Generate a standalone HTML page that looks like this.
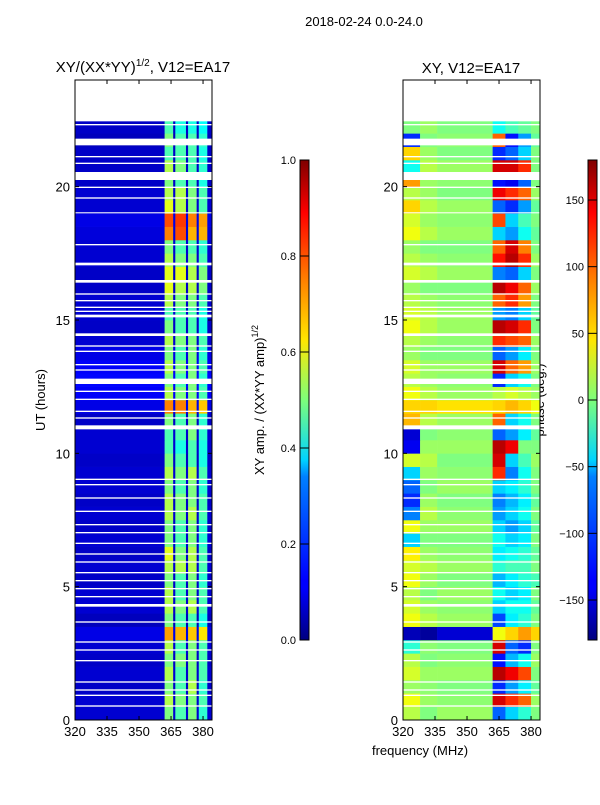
<!DOCTYPE html>
<html><head><meta charset="utf-8">
<style>
body{margin:0;background:#fff;width:600px;height:800px;overflow:hidden;font-family:"Liberation Sans","DejaVu Sans",sans-serif;}
svg text{font-family:"Liberation Sans","DejaVu Sans",sans-serif;fill:#000;}
</style></head>
<body>
<svg id="fig" width="600" height="800" viewBox="0 0 600 800" xmlns="http://www.w3.org/2000/svg">
<defs>
<linearGradient id="jet" x1="0" y1="1" x2="0" y2="0">
<stop offset="0" stop-color="#00007f"/><stop offset="0.11" stop-color="#0000ff"/>
<stop offset="0.125" stop-color="#0000ff"/><stop offset="0.34" stop-color="#0080ff"/>
<stop offset="0.375" stop-color="#00d4ff"/><stop offset="0.5" stop-color="#7dff7a"/>
<stop offset="0.625" stop-color="#ffe600"/><stop offset="0.75" stop-color="#ff8000"/>
<stop offset="0.89" stop-color="#ff0000"/><stop offset="1" stop-color="#7f0000"/>
</linearGradient>
</defs>
<text x="364" y="26" font-size="13" text-anchor="middle">2018-02-24 0.0-24.0</text>
<text x="143" y="72" font-size="15" text-anchor="middle">XY/(XX*YY)<tspan font-size="10" dy="-6">1/2</tspan><tspan dy="6">, V12=EA17</tspan></text>
<text x="471" y="73" font-size="15" text-anchor="middle">XY, V12=EA17</text>
<text transform="translate(45,400) rotate(-90)" font-size="13" text-anchor="middle">UT (hours)</text>
<text x="420" y="755" font-size="13" text-anchor="middle">frequency (MHz)</text>
<text transform="translate(264,400) rotate(-90)" font-size="13" text-anchor="middle">XY amp. / (XX*YY amp)<tspan font-size="9" dy="-6">1/2</tspan></text>
<text transform="translate(544,400) rotate(-90)" font-size="13" text-anchor="middle">phase (deg.)</text>
<g id="left"></g>
<g id="right"></g>
<g id="axes"></g>
</svg>
<script>
// ---- data (time bins of 0.5 h starting at 0) ----
const timeStart = [0,0.5,1,1.5,2,2.5,3,3.5,4,4.5,5,5.5,6,6.5,7,7.5,8,8.5,9,9.5,10,10.5,11,11.5,12,12.5,13,13.5,14,14.5,15,15.5,16,16.5,17,17.5,18,18.5,19,19.5,20,20.5,21,21.5,22];
const dataEnd = 22.45;
const ampBg  = [0.08,0.08,0.07,0.08,0.07,0.08,0.1,0.06,0.08,0.08,0.07,0.08,0.07,0.08,0.07,0.08,0.07,0.08,0.08,0.07,0.08,0.08,0.07,0.1,0.12,0.13,0.12,0.1,0.08,0.07,0.08,0.08,0.07,0.07,0.08,0.08,0.09,0.1,0.08,0.08,0.07,0.07,0.07,0.06,0.07];
const amp1 = [0.5,0.55,0.5,0.55,0.5,0.55,0.72,0.5,0.55,0.55,0.5,0.55,0.6,0.5,0.5,0.55,0.55,0.5,0.55,0.5,0.45,0.45,0.5,0.75,0.55,0.5,0.55,0.5,0.55,0.5,0.45,0.55,0.6,0.6,0.55,0.5,0.75,0.8,0.6,0.55,0.5,0.55,0.45,0.5,0.45];
const amp2 = [0.45,0.5,0.45,0.45,0.5,0.45,0.7,0.45,0.5,0.45,0.45,0.55,0.5,0.45,0.45,0.5,0.5,0.45,0.5,0.45,0.4,0.45,0.45,0.75,0.5,0.45,0.5,0.45,0.5,0.45,0.45,0.5,0.55,0.6,0.5,0.45,0.8,0.82,0.55,0.55,0.45,0.5,0.45,0.45,0.4];
const amp3 = [0.5,0.5,0.55,0.5,0.5,0.5,0.68,0.45,0.55,0.5,0.5,0.55,0.55,0.5,0.5,0.55,0.5,0.5,0.55,0.45,0.45,0.5,0.5,0.7,0.5,0.5,0.5,0.5,0.5,0.45,0.45,0.5,0.55,0.55,0.5,0.45,0.7,0.75,0.5,0.5,0.45,0.45,0.45,0.45,0.4];
const amp4 = [0.42,0.45,0.42,0.45,0.45,0.45,0.65,0.4,0.45,0.45,0.42,0.45,0.45,0.42,0.42,0.45,0.45,0.42,0.45,0.4,0.4,0.42,0.42,0.68,0.45,0.42,0.45,0.42,0.45,0.4,0.4,0.45,0.5,0.5,0.45,0.42,0.7,0.72,0.45,0.45,0.4,0.42,0.4,0.42,0.38];
const ph0 = [20,40,10,30,20,-30,-160,40,30,20,40,30,50,-60,40,-90,-120,-100,-60,30,-140,-150,70,60,40,20,30,10,20,40,30,20,10,30,20,10,40,30,60,20,80,-40,60,-120,0];
const ph1 = [0,10,5,10,0,5,-170,20,10,0,10,20,10,0,10,20,10,0,10,20,10,0,20,60,20,10,10,0,10,20,20,10,0,20,10,0,20,10,20,10,10,20,10,0,10];
const ph2 = [10,5,0,10,5,0,-150,10,5,10,0,10,5,0,10,5,0,10,5,0,10,5,10,55,10,5,10,0,5,10,10,5,0,10,5,0,10,5,10,0,5,10,0,5,0];
const ph3 = [-100,150,-120,160,-130,150,40,-110,-60,-40,-70,-30,-50,-40,-60,-80,-90,-60,120,150,160,-100,100,60,20,-120,150,-100,120,160,-80,100,160,-90,130,100,-60,110,-100,140,-130,150,-120,100,-40];
const ph4 = [-60,120,-80,140,-70,-100,60,-50,-40,-60,-50,-20,-40,-60,-80,-60,-70,-50,-90,-60,140,-80,-60,70,30,-60,100,-80,110,150,-90,120,140,-100,160,150,-80,-60,-120,120,-140,150,-100,-130,-20];
const ph5 = [-30,100,-50,110,-40,-120,80,-30,-40,-50,-30,-20,-30,-50,-60,-40,-50,-30,-40,-20,0,-50,-40,60,20,-40,80,-50,100,120,-60,80,100,-60,120,90,-40,-20,-80,100,-100,120,-60,-80,-10];
const ph6 = [0,10,-10,0,10,0,60,0,-10,0,-20,0,-10,0,-10,0,-10,0,0,10,0,-10,0,40,10,0,10,0,10,0,-10,0,10,0,10,0,-10,0,-10,10,0,0,0,-10,0];
const gaps = [[22.3,22.35],[21.55,21.8],[21.1,21.15],[20.85,20.9],[20.25,20.55],[19.95,20.0],[19.55,19.6],[19.0,19.04],[17.8,17.85],[17.05,17.15],[16.4,16.5],[15.95,16.0],[15.7,15.75],[15.45,15.5],[15.3,15.35],[15.1,15.2],[14.4,14.5],[14.0,14.05],[13.8,13.85],[13.3,13.35],[13.1,13.15],[12.6,12.8],[12.3,12.35],[12.0,12.05],[11.55,11.6],[11.3,11.35],[10.9,11.05],[9.0,9.05],[8.8,8.85],[8.3,8.35],[7.8,7.85],[7.3,7.35],[7.0,7.05],[6.6,6.65],[6.2,6.25],[5.9,5.95],[5.5,5.55],[5.2,5.25],[4.9,4.95],[4.6,4.65],[4.25,4.35],[3.65,3.7],[2.9,2.95],[2.6,2.65],[2.2,2.25],[1.4,1.45],[1.1,1.15],[0.9,0.95],[0.5,0.55]];
const freqTicks = [320,335,350,365,380];
const timeTicks = [0,5,10,15,20];
const ampTicks = [0.0,0.2,0.4,0.6,0.8,1.0];
const phaseTicks = [-150,-100,-50,0,50,100,150];
const ampEdges = [320,362,366,367,372,373,377,378,382,384.2];
const phEdges = [320,328,336,362,368,374,380,384.2];

const NS='http://www.w3.org/2000/svg';
const fig=document.getElementById('fig');
function jet(v){v=Math.max(0,Math.min(1,v));
 const r=Math.min(4*v-1.5,-4*v+4.5),g=Math.min(4*v-0.5,-4*v+3.5),b=Math.min(4*v+0.5,-4*v+2.5);
 const c=x=>Math.round(255*Math.max(0,Math.min(1,x)));return `rgb(${c(r)},${c(g)},${c(b)})`;}
function el(tag,attrs,parent){const e=document.createElementNS(NS,tag);for(const k in attrs)e.setAttribute(k,attrs[k]);parent.appendChild(e);return e;}
const yTop=80,yBot=720,tMax=24;
const ys=t=>yBot-(t/tMax)*(yBot-yTop);
function xs(x0,x1){return f=>x0+(f-320)/(384.2-320)*(x1-x0);}
function panel(gid,x0,x1,edges,colVals,norm){
 const g=document.getElementById(gid);const X=xs(x0,x1);
 for(let i=0;i<timeStart.length;i++){
  const t0=timeStart[i],t1=Math.min(t0+0.5,dataEnd);
  for(let j=0;j<edges.length-1;j++){
   const r=el('rect',{x:X(edges[j]),y:ys(t1),width:X(edges[j+1])-X(edges[j])+0.3,height:ys(t0)-ys(t1)+0.3,fill:jet(norm(colVals[j][i]))},g);
   
   
  }
 }
 gaps.forEach(gp=>{const r=el('rect',{x:x0,y:ys(gp[1]),width:x1-x0,height:ys(gp[0])-ys(gp[1]),fill:'#fff'},g);
  
  });
}
panel('left',75,212,ampEdges,[ampBg,amp1,ampBg,amp2,ampBg,amp3,ampBg,amp4,ampBg],v=>v);
panel('right',403,540,phEdges,[ph0,ph1,ph2,ph3,ph4,ph5,ph6],v=>(v+180)/360);

const ax=document.getElementById('axes');
function frame(x0,x1,name){
 const r=el('rect',{x:x0,y:yTop,width:x1-x0,height:yBot-yTop,fill:'none',stroke:'#000','stroke-width':1},ax);
 
 
 const X=xs(x0,x1);
 freqTicks.forEach(f=>{el('line',{x1:X(f),x2:X(f),y1:yBot,y2:yBot-4,stroke:'#000'},ax);el('line',{x1:X(f),x2:X(f),y1:yTop,y2:yTop+4,stroke:'#000'},ax);
  const t=el('text',{x:X(f),y:yBot+16,'font-size':13,'text-anchor':'middle'},ax);t.textContent=f;
  
  });
 timeTicks.forEach(v=>{el('line',{x1:x0,x2:x0+4,y1:ys(v),y2:ys(v),stroke:'#000'},ax);el('line',{x1:x1,x2:x1-4,y1:ys(v),y2:ys(v),stroke:'#000'},ax);
  const t=el('text',{x:x0-5,y:ys(v)+5,'font-size':13,'text-anchor':'end'},ax);t.textContent=v;
  
  });
}
frame(75,212,'amp-axes');frame(403,540,'phase-axes');
function cbar(x,ticks,lo,hi,name,fmt){
 const r=el('rect',{x:x,y:160,width:9,height:480,fill:'url(#jet)',stroke:'#000','stroke-width':1},ax);
 
 
 ticks.forEach(v=>{const y=640-(v-lo)/(hi-lo)*480;el('line',{x1:x,x2:x+9,y1:y,y2:y,stroke:'#000'},ax);
  const t=el('text',{x:x-4,y:y+4,'font-size':11,'text-anchor':'end'},ax);t.textContent=fmt(v);
  
  });
}
cbar(300,ampTicks,0,1,'amp-colorbar',v=>v.toFixed(1));
cbar(588,phaseTicks,-180,180,'phase-colorbar',v=>String(v).replace('-','\u2212'));
</script>
</body></html>
